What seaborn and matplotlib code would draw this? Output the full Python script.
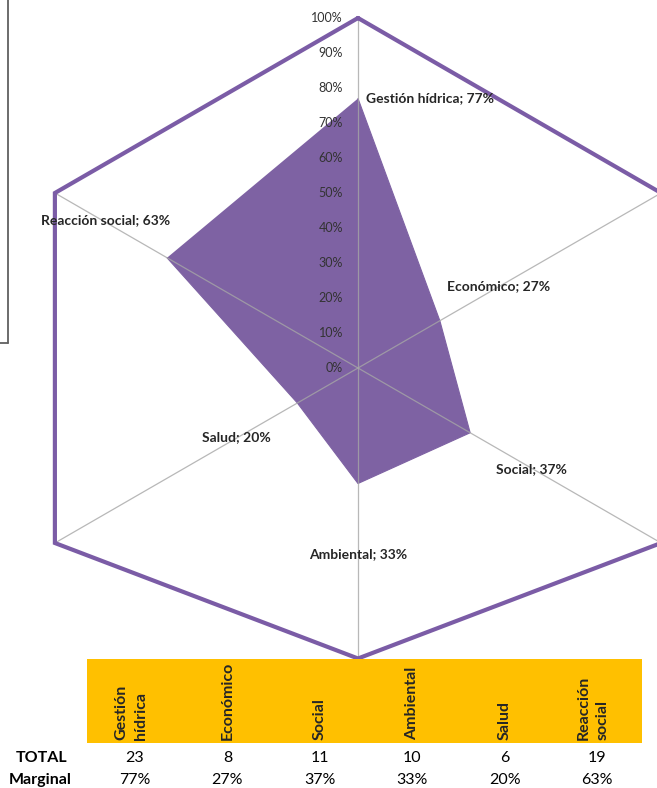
import numpy as np
import pandas as pd
import matplotlib
matplotlib.use("Agg")
import matplotlib.pyplot as plt
from matplotlib.patches import Rectangle
from matplotlib.lines import Line2D
import seaborn as sns

# ---------------- data ----------------
categories = ["Gestión hídrica", "Económico", "Social", "Ambiental", "Salud", "Reacción social"]
table_headers = ["Gestión\nhídrica", "Económico", "Social", "Ambiental", "Salud", "Reacción\nsocial"]
totals = [23, 8, 11, 10, 6, 19]
marginal = [0.77, 0.27, 0.37, 0.33, 0.20, 0.63]
tick_values = [0.0, 0.1, 0.2, 0.3, 0.4, 0.5, 0.6, 0.7, 0.8, 0.9, 1.0]
tick_labels = ["0%", "10%", "20%", "30%", "40%", "50%", "60%", "70%", "80%", "90%", "100%"]
row_labels = ["TOTAL", "Marginal"]

# ---------------- style ----------------
sns.set_theme(style="white")
plt.rcParams["font.family"] = ["Lato", "DejaVu Sans"]

PURPLE = "#7E62A3"
FRAME = "#7B5CA6"
GRID = "#A6A6A6"
GOLD = "#FFC000"
TXT = "#262626"

W, H = 657, 788
fig = plt.figure(figsize=(W / 100, H / 100), dpi=100)
fig.patch.set_facecolor("white")

# radar axes: unit radius = 350 px, centre at pixel (358, 368)
PX = 350.0
cx, cy = 358.0, 368.0
ax = fig.add_axes([0, 0, 1, 1])
ax.set_xlim(-cx / PX, (W - cx) / PX)
ax.set_ylim(-(H - cy) / PX, cy / PX)
ax.set_aspect("equal", adjustable="datalim")
ax.axis("off")

n = len(categories)
angles = np.deg2rad(90 - 360.0 / n * np.arange(n))
df = pd.DataFrame({"cat": categories, "val": marginal, "ang": angles})
df["x"] = df["val"] * np.cos(df["ang"])
df["y"] = df["val"] * np.sin(df["ang"])

# data polygon
ax.fill(df["x"], df["y"], color=PURPLE, zorder=2, lw=0)
closed = pd.concat([df, df.iloc[[0]]], ignore_index=True)
sns.lineplot(data=closed, x="x", y="y", sort=False, ax=ax, color=PURPLE, lw=0.8, zorder=2)

# outer frame (hexagon) and radial axes
outer_r = np.array([1, 1, 1, 0.83, 1, 1])
hx = outer_r * np.cos(angles)
hy = outer_r * np.sin(angles)
for x1, y1 in zip(hx, hy):
    ax.plot([0, x1], [0, y1], color=GRID, lw=0.9, alpha=0.8, zorder=3)
ax.plot(np.append(hx, hx[0]), np.append(hy, hy[0]), color=FRAME, lw=3.0,
        solid_joinstyle="miter", zorder=4)

# radial tick labels
for v, lab in zip(tick_values, tick_labels):
    ax.text(-15 / PX, v, lab, ha="right", va="center", fontsize=9, color="#333333", zorder=5)

# data labels
offsets = [(8, 0, "left"), (7, -35, "left"), (26, 36, "left"),
           (0, 71, "center"), (-27, 34, "right"), (3, -38, "right")]
for (_, r), (dx, dy, ha) in zip(df.iterrows(), offsets):
    ax.annotate(f"{r['cat']}; {round(r['val'] * 100)}%", (r["x"], r["y"]),
                xytext=(dx * 0.72, -dy * 0.72), textcoords="offset points",
                ha=ha, va="center", fontsize=10, fontweight="bold", color=TXT, zorder=6)

# fragment of a neighbouring chart at the left edge
fig.add_artist(Line2D([8 / W, 8 / W], [1, 1 - 343 / H], transform=fig.transFigure,
                      color="#606060", lw=1.3))
fig.add_artist(Line2D([0, 8 / W], [1 - 343 / H, 1 - 343 / H], transform=fig.transFigure,
                      color="#606060", lw=1.3))

# ---------------- table ----------------
tax = fig.add_axes([0, 0, 1, 138 / H])
step = 92.4
c0 = 135.0
tax.set_xlim(-c0 / step, (W - c0) / step)
tax.set_ylim(788, 650)
tax.axis("off")
tax.patch.set_alpha(0)
tax.add_patch(Rectangle(((87 - c0) / step, 659), (642 - 87) / step, 84,
                        facecolor=GOLD, edgecolor="none"))
for i, (hd, t, m) in enumerate(zip(table_headers, totals, marginal)):
    tax.text(i - (0.04 if "\n" in hd else 0), 740, hd, rotation=90, ha="center", va="bottom",
             multialignment="left", fontsize=11.5, fontweight="bold", color=TXT, linespacing=1.45)
    tax.text(i, 758, str(t), ha="center", va="center", fontsize=11.5, color="black")
    tax.text(i, 780, f"{round(m * 100)}%", ha="center", va="center", fontsize=11.5, color="black")
tax.text((42 - c0) / step, 758, row_labels[0], ha="center", va="center",
         fontsize=11.5, fontweight="bold", color="black")
tax.text((40 - c0) / step, 780, row_labels[1], ha="center", va="center",
         fontsize=11.5, fontweight="bold", color="black")

fig.savefig("out.png", dpi=100)
